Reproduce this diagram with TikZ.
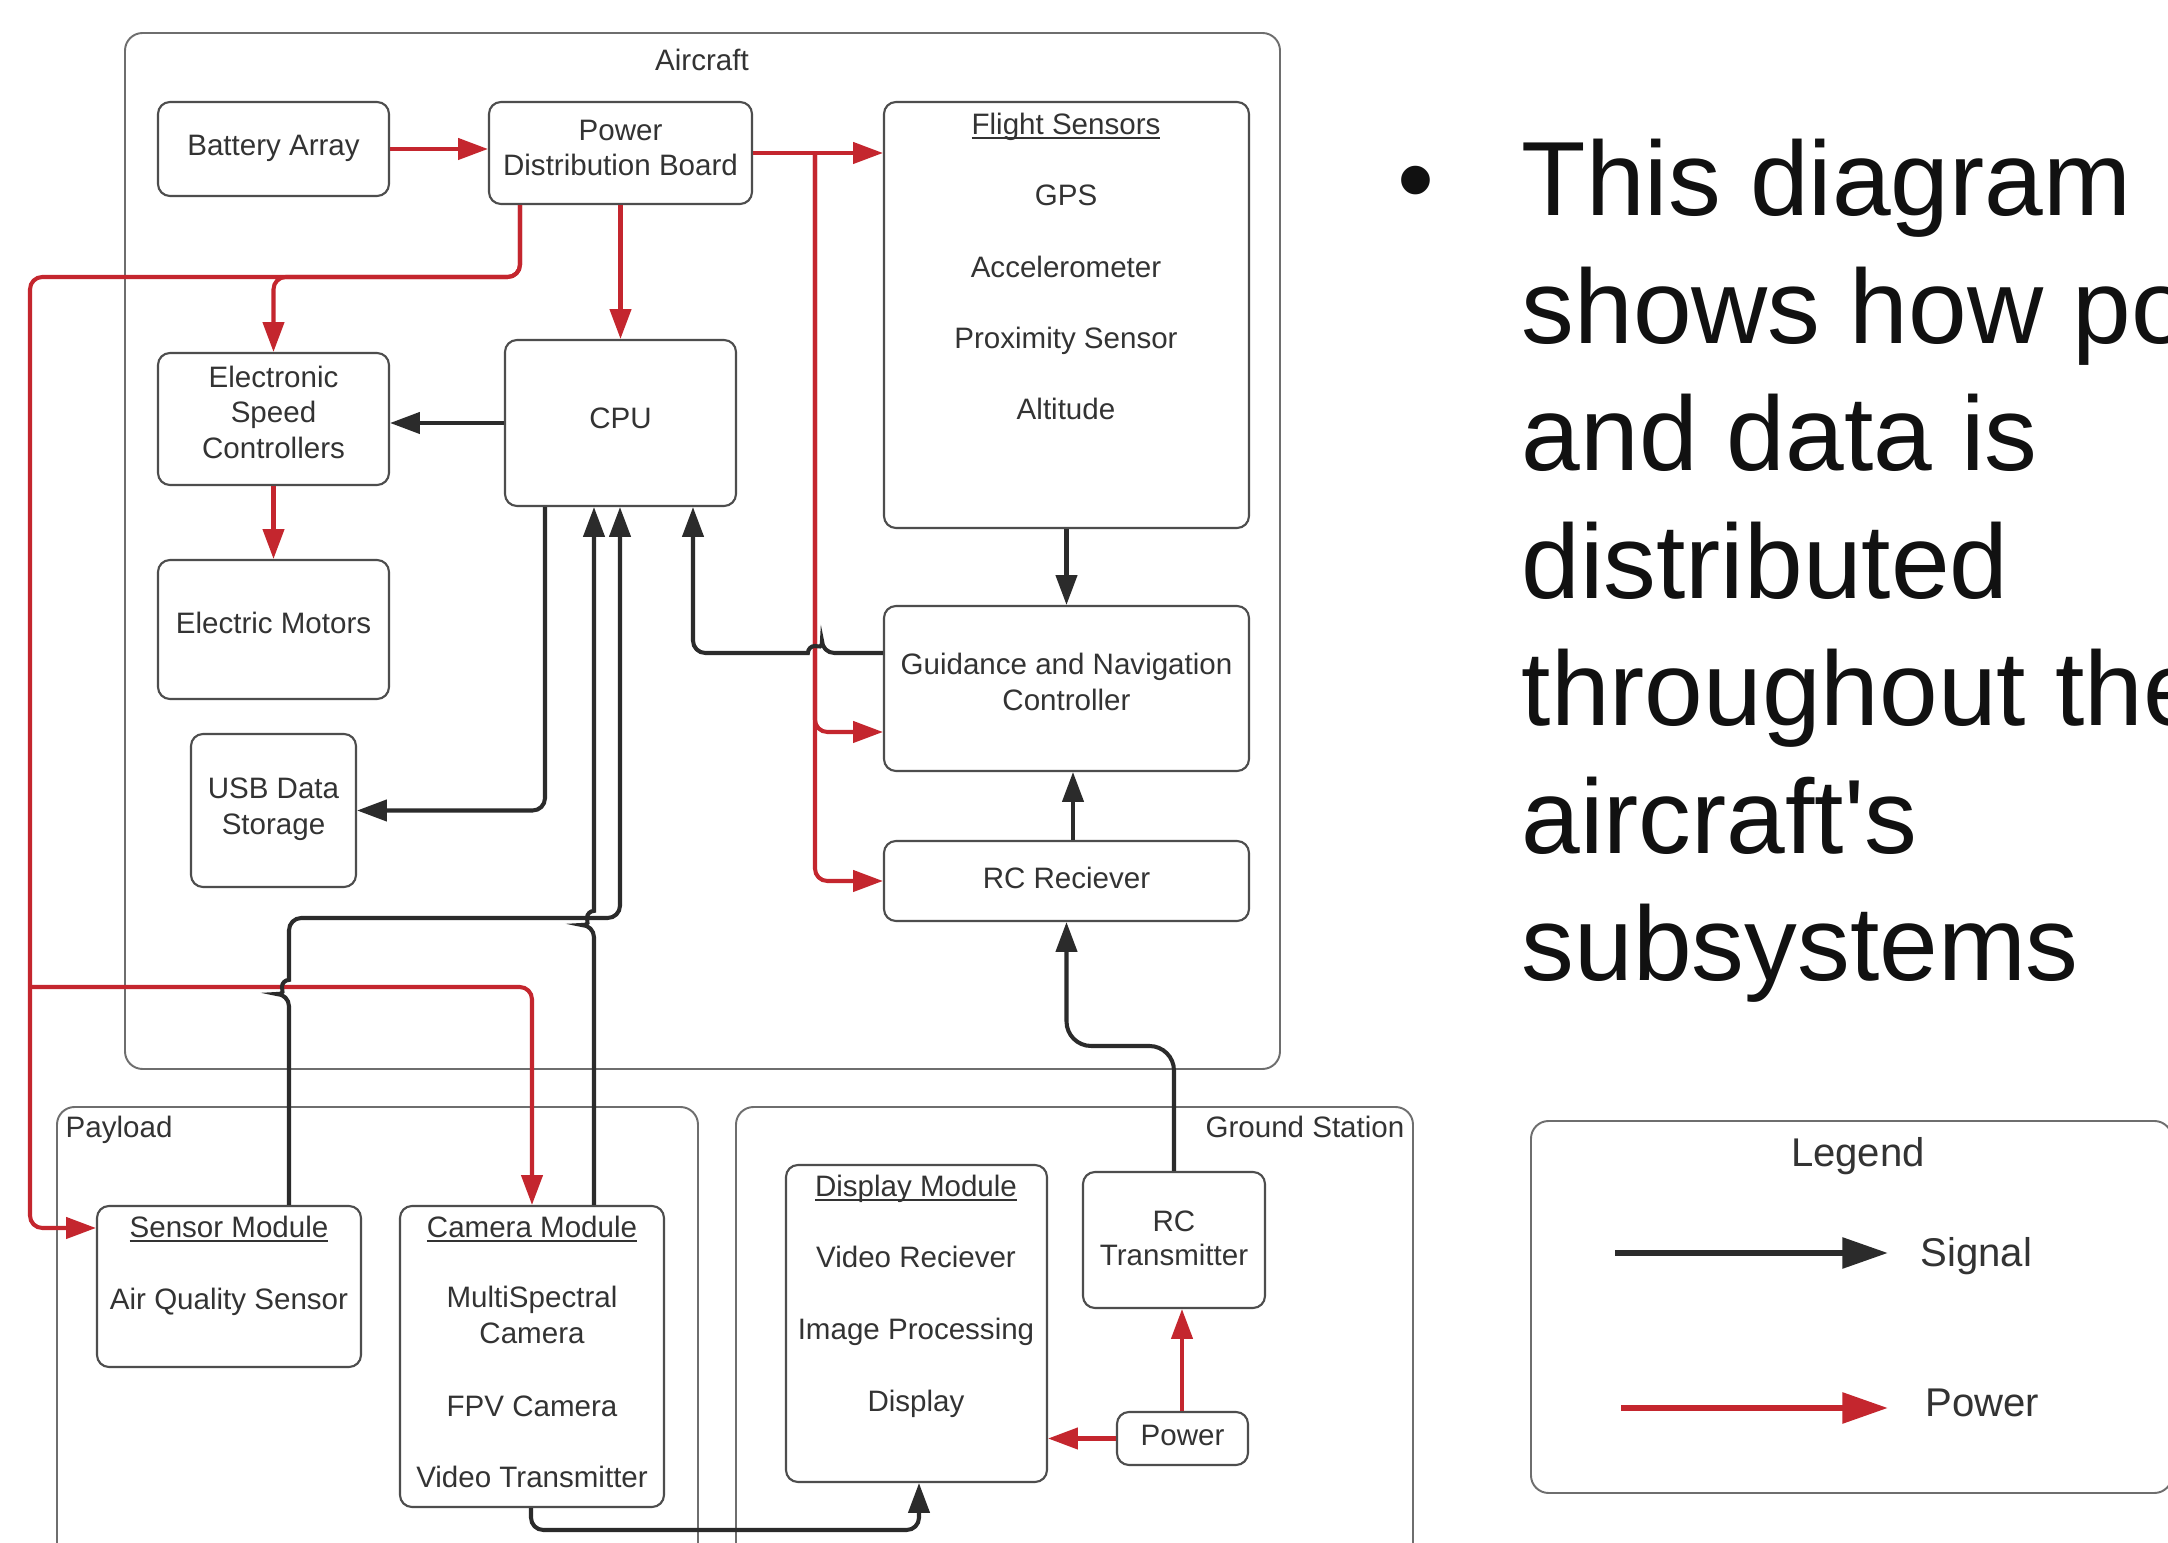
\documentclass[tikz,border=0pt]{standalone}
\usepackage{fontspec}
\setmainfont{Liberation Sans}
\newfontfamily\bodyfont{Liberation Sans}
\usetikzlibrary{arrows.meta,fit}
\definecolor{pwr}{HTML}{C4262E}
\definecolor{sig}{HTML}{2B2B2B}
\definecolor{edgec}{HTML}{4D4D4D}
\definecolor{grpc}{HTML}{6E6E6E}
\definecolor{txt}{HTML}{333333}
\definecolor{bodyc}{HTML}{111111}
\newsavebox\ulbox
\newcommand\ulx[1]{\sbox\ulbox{#1}\rlap{\rule[-1.1pt]{\wd\ulbox}{0.5pt}}\usebox\ulbox}
\newcommand\dgfont{\fontsize{8.4}{10.1}\selectfont}
\newcommand\lgfont{\fontsize{11.4}{13}\selectfont}
\newcommand\bigfont{\bodyfont\fontsize{30}{36}\selectfont}
\tikzset{
  box/.style={draw=edgec, line width=0.6pt, rounded corners=3.4pt, inner sep=0pt},
  group/.style={draw=grpc, line width=0.55pt, rounded corners=5pt, inner sep=0pt},
  lbl/.style={text=txt, font=\dgfont, inner sep=0pt},
  item/.style={lbl, anchor=base},
  bodyline/.style={text=bodyc, font=\bigfont, inner sep=0pt, anchor=base west},
  power/.style={draw=pwr, line width=1.15pt, rounded corners=3.5pt, -{Triangle[length=8.5pt,width=6pt]}},
  signal/.style={draw=sig, line width=1.15pt, rounded corners=3.5pt, -{Triangle[length=8.5pt,width=6pt]}},
}
\begin{document}
\begin{tikzpicture}[x=0.01cm, y=-0.01cm]
\useasboundingbox (0,0) rectangle (2168,1543);
\fill[white] (0,0) rectangle (2168,1543);
\clip (0,0) rectangle (2168,1543);

% groups
\node[group, fit={(125,33) (1280,1069)}] (aircraft) {};
\node[item] (aircraftlbl) at (702,71) {Aircraft};
\node[group, fit={(57,1107) (698,1620)}] (payload) {};
\node[lbl, anchor=base west] (payloadlbl) at (65,1138) {Payload};
\node[group, fit={(736,1107) (1413,1620)}] (ground) {};
\node[lbl, anchor=base east] (groundlbl) at (1405,1138) {Ground Station};

% aircraft boxes
\node[box, fit={(158,102) (389,196)}] (bat) {};
\node[item] (batt) at (273.5,156) {Battery Array};
\node[box, fit={(489,102) (752,204)}] (pdb) {};
\node[item] (pdbt1) at (620.5,141) {Power};
\node[item] (pdbt2) at (620.5,176) {Distribution Board};
\node[box, fit={(884,102) (1249,528)}] (fs) {};
\node[item] (fst) at (1066,135) {\ulx{Flight Sensors}};
\node[item] (gps) at (1066,206) {GPS};
\node[item] (acc) at (1066,278) {Accelerometer};
\node[item] (prox) at (1066,349) {Proximity Sensor};
\node[item] (alt) at (1066,420) {Altitude};
\node[box, fit={(158,353) (389,485)}] (esc) {};
\node[item] (esct1) at (273.5,387.5) {Electronic};
\node[item] (esct2) at (273.5,423) {Speed};
\node[item] (esct3) at (273.5,459) {Controllers};
\node[box, fit={(505,340) (736,506)}] (cpu) {};
\node[item] (cput) at (620.5,429) {CPU};
\node[box, fit={(158,560) (389,699)}] (mot) {};
\node[item] (mott) at (273.5,634) {Electric Motors};
\node[box, fit={(191,734) (356,887)}] (usb) {};
\node[item] (usbt1) at (273.5,799) {USB Data};
\node[item] (usbt2) at (273.5,835) {Storage};
\node[box, fit={(884,606) (1249,771)}] (gnc) {};
\node[item] (gnct1) at (1066.5,675) {Guidance and Navigation};
\node[item] (gnct2) at (1066.5,711) {Controller};
\node[box, fit={(884,841) (1249,921)}] (rcr) {};
\node[item] (rcrt) at (1066.5,889) {RC Reciever};

% payload boxes
\node[box, fit={(97,1206) (361,1367)}] (sen) {};
\node[item] (sent) at (229,1238) {\ulx{Sensor Module}};
\node[item] (air) at (229,1310) {Air Quality Sensor};
\node[box, fit={(400,1206) (664,1507)}] (cam) {};
\node[item] (camt) at (532,1238) {\ulx{Camera Module}};
\node[item] (ms) at (532,1308) {MultiSpectral};
\node[item] (msc) at (532,1344) {Camera};
\node[item] (fpv) at (532,1417) {FPV Camera};
\node[item] (vtx) at (532,1488) {Video Transmitter};

% ground station boxes
\node[box, fit={(786,1165) (1047,1482)}] (disp) {};
\node[item] (dispt) at (916,1197) {\ulx{Display Module}};
\node[item] (vr) at (916,1268) {Video Reciever};
\node[item] (ip) at (916,1340) {Image Processing};
\node[item] (dsp) at (916,1412) {Display};
\node[box, fit={(1083,1172) (1265,1308)}] (rct) {};
\node[item] (rctt1) at (1174,1232) {RC};
\node[item] (rctt2) at (1174,1266) {Transmitter};
\node[box, fit={(1117,1412) (1248,1465)}] (pw) {};
\node[item] (pwt) at (1182.5,1446) {Power};

% power connectors
\coordinate (pj) at (815,153);
\coordinate (pk) at (30,987);
\draw[power] (bat.east) -- (bat.east -| pdb.west);
\draw[power] (pdb.east) -- (pdb.east -| fs.west);
\draw[power] (pj) |- (gnc.west |- 0,732);
\draw[power] (pj) |- (rcr.west);
\draw[power] (pdb) -- (cpu);
\draw[power] (pdb.south -| 520,0) -- (520,277) -- (30,277) -- (30,1228) -- (sen.west |- 0,1228);
\draw[power] (pdb.south -| 520,0) -- (520,277) -- (esc.north |- 0,277) -- (esc.north);
\draw[power] (pk) -- (cam.north |- 0,987) -- (cam.north);
\draw[power] (esc) -- (mot);
\draw[power] (pw.north -| 1182,0) -- (rct.south -| 1182,0);
\draw[power] (pw.west) -- (pw.west -| disp.east);

% signal connectors
\draw[signal] (cpu.west) -- (cpu.west -| esc.east);
\draw[signal] (cpu.south -| 545,0) |- (usb.east);
\draw[signal] (fs.south) -- (gnc.north);
\draw[signal] (rcr.north -| 1073,0) -- (gnc.south -| 1073,0);
\draw[signal] (gnc.west |- 0,653) -- (822,653) [sharp corners] arc[start angle=0,end angle=180,radius=2pt] [rounded corners=3.5pt] -- (693,653) -- (cpu.south -| 693,0);
\draw[signal, rounded corners=7pt] (rct.north) -- (rct.north |- 0,1046) -- (rcr.south |- 0,1046) -- (rcr.south);
\draw[signal] (cam.south -| 531,0) -- (531,1530) -- (919,1530) -- (disp.south -| 919,0);
\draw[signal] (sen.north -| 289,0) -- (289,994) [sharp corners] arc[start angle=270,end angle=90,radius=2pt] [rounded corners=3.5pt] -- (289,918) -- (620,918) -- (cpu.south -| 620,0);
\draw[signal] (cam.north -| 594,0) -- (594,925) [sharp corners] arc[start angle=270,end angle=90,radius=2pt] [rounded corners=3.5pt] -- (cpu.south -| 594,0);

% bullet text
\node[text=bodyc, font=\bigfont, inner sep=0pt, anchor=base] (bullet) at (1416,216) {\textbullet};
\node[bodyline] (l1) at (1521,216) {This diagram};
\node[bodyline] (l2) at (1521,343.5) {shows how power};
\node[bodyline] (l3) at (1521,471) {and data is};
\node[bodyline] (l4) at (1521,598.5) {distributed};
\node[bodyline] (l5) at (1521,726) {throughout the};
\node[bodyline] (l6) at (1521,853.5) {aircraft's};
\node[bodyline] (l7) at (1521,981) {subsystems};

% legend
\node[group, fit={(1531,1121) (2172,1493)}] (legend) {};
\node[lbl, font=\lgfont, anchor=base] (legendlbl) at (1858,1167) {Legend};
\coordinate (sa) at (1615,1253);
\coordinate (sb) at (1888,1253);
\draw[draw=sig, line width=1.8pt, -{Triangle[length=13pt,width=8.5pt]}] (sa) -- (sb);
\node[lbl, font=\lgfont, anchor=base west] (siglbl) at (1920,1267) {Signal};
\coordinate (pa) at (1621,1408);
\coordinate (pb) at (1888,1408);
\draw[draw=pwr, line width=1.8pt, -{Triangle[length=13pt,width=8.5pt]}] (pa) -- (pb);
\node[lbl, font=\lgfont, anchor=base west] (powlbl) at (1925,1417) {Power};
\end{tikzpicture}
\end{document}
